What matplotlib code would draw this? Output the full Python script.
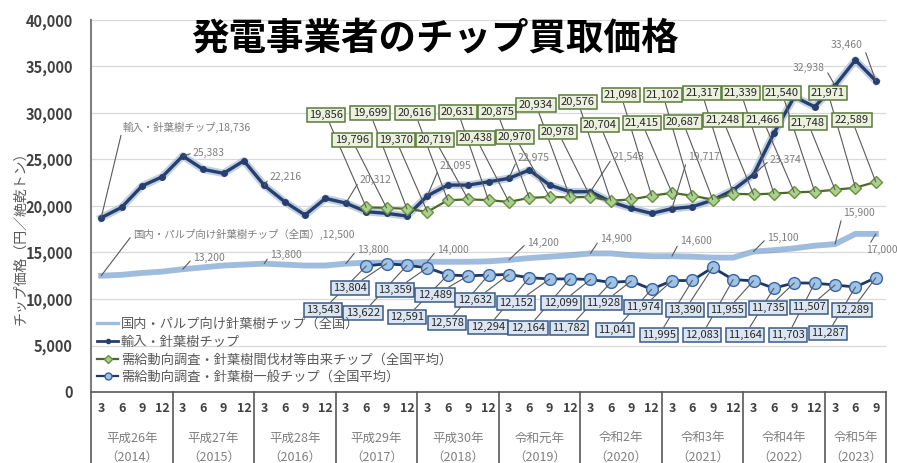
import numpy as np
import matplotlib.pyplot as plt
from matplotlib.lines import Line2D
from matplotlib.ticker import FuncFormatter

plt.rcParams['font.family'] = ['Noto Sans CJK JP', 'DejaVu Sans']

W, H = 897, 463

# quarterly data, 2014 Mar .. 2023 Sep
months = ['3', '6', '9', '12'] * 9 + ['3', '6', '9']
eras = ['平成26年', '平成27年', '平成28年', '平成29年', '平成30年',
        '令和元年', '令和2年', '令和3年', '令和4年', '令和5年']
years = ['（2014）', '（2015）', '（2016）', '（2017）', '（2018）',
         '（2019）', '（2020）', '（2021）', '（2022）', '（2023）']

domestic = [12500, 12600, 12800, 12950, 13200, 13400, 13600, 13700, 13800, 13700,
            13600, 13600, 13800, 13900, 13900, 13900, 14000, 14000, 14000, 14050,
            14200, 14400, 14550, 14700, 14900, 14900, 14700, 14600, 14600, 14550,
            14450, 14450, 15100, 15250, 15450, 15730, 15900, 17000, 17000]
imported = [18736, 19850, 22150, 23150, 25383, 23940, 23510, 24860, 22216, 20460,
            19030, 20820, 20312, 19390, 19210, 18920, 21095, 22250, 22250, 22600,
            22975, 23870, 22250, 21530, 21543, 20460, 19750, 19200, 19717, 19920,
            20640, 21715, 23374, 27810, 31750, 30670, 32938, 35690, 33460]
# survey series start at 2017 Jun
survey_start = 13
thinning = [19856, 19796, 19699, 19370, 20616, 20719, 20631, 20438, 20875, 20970,
            20934, 20978, 20576, 20704, 21098, 21415, 21102, 20687, 21317, 21248,
            21339, 21466, 21540, 21748, 21971, 22589]
general = [13543, 13804, 13622, 13359, 12591, 12489, 12578, 12632, 12294, 12152,
           12164, 12099, 11782, 11928, 11041, 11974, 11995, 13390, 12083, 11955,
           11164, 11735, 11703, 11507, 11287, 12289]

names = ['国内・パルプ向け針葉樹チップ（全国）',
         '輸入・針葉樹チップ',
         '需給動向調査・針葉樹間伐材等由来チップ（全国平均）',
         '需給動向調査・針葉樹一般チップ（全国平均）']

# label placement in figure pixels (x, y from top)
thin_xy = [(326, 115), (352, 140), (370, 113), (396, 140), (415, 113), (435, 140),
           (458, 112), (476, 138), (497, 112), (515, 137), (536, 105), (558, 132),
           (578, 102), (600, 125), (621, 95), (642, 123), (663, 95), (683, 122),
           (702, 93), (723, 120), (741, 93), (763, 120), (782, 93), (808, 123),
           (828, 93), (852, 120)]
gen_xy = [(323, 310), (350, 288), (363, 313), (395, 290), (407, 317), (435, 295),
          (447, 323), (475, 300), (488, 327), (516, 303), (528, 328), (561, 303),
          (569, 328), (603, 303), (615, 330), (643, 307), (659, 335), (685, 310),
          (702, 335), (727, 310), (745, 335), (768, 308), (788, 335), (809, 307),
          (828, 333), (852, 310)]
imp_lab = [(4, 193, 153, 'left'), (8, 270, 177, 'left'), (12, 360, 180, 'left'),
           (16, 440, 166, 'left'), (20, 518, 158, 'left'), (24, 613, 157, 'left'),
           (28, 688, 157, 'left'), (32, 770, 160, 'left'), (36, 825, 68, 'right'),
           (38, 863, 45, 'right')]
dom_lab = [(4, 193, 258, 'left'), (8, 270, 255, 'left'), (12, 357, 250, 'left'),
           (16, 437, 250, 'left'), (20, 527, 243, 'left'), (24, 600, 239, 'left'),
           (28, 680, 241, 'left'), (32, 767, 238, 'left'), (36, 843, 213, 'left'),
           (38, 866, 250, 'left')]

fig = plt.figure(figsize=(W / 100, H / 100), dpi=100)
ax = fig.add_axes([91 / W, (H - 392) / H, 795 / W, 372 / H])

x = np.arange(len(months))
xs = x[survey_start:]

ax.plot(x, domestic, color='#5d84b5', lw=4.2, alpha=0.55, zorder=2)
ax.plot(x, domestic, color='#9cbde2', lw=2.4, zorder=2.1)
ax.plot(x, imported, color='#a9bdd8', lw=5.5, alpha=0.7, zorder=2.5)
ax.plot(x, imported, color='#263f6e', lw=2.4, marker='o', ms=4, zorder=2.6)
ax.plot(xs, thinning, color='#4b6a2a', lw=1.6, marker='D', ms=6.5,
        mfc='#a9d18e', mec='#6a8f3e', mew=1, zorder=3)
ax.plot(xs, general, color='#1f3864', lw=2, marker='o', ms=8.5,
        mfc='#9dc3e6', mec='#3b64a0', mew=1, zorder=3)

lead = dict(arrowstyle='-', color='#595959', lw=0.8, shrinkA=0, shrinkB=0)


def box_label(i, v, px, py, fc, ec):
    ax.annotate(f'{v:,}', xy=(i, v), xytext=(px, H - py), textcoords='figure pixels',
                ha='center', va='center', fontsize=8, color='#262626',
                bbox=dict(boxstyle='square,pad=0.22', fc=fc, ec=ec, lw=1.1),
                arrowprops=lead, zorder=5, annotation_clip=False)


def plain_label(i, v, text, px, py, ha):
    rel = (0, 0.5) if ha == 'left' else (1, 0.5)
    ax.annotate(text, xy=(i, v), xytext=(px, H - py), textcoords='figure pixels',
                ha=ha, va='center', fontsize=7.5, color='#7f7f7f',
                arrowprops=dict(lead, relpos=rel), zorder=5, annotation_clip=False)


for k, (v, (px, py)) in enumerate(zip(thinning, thin_xy)):
    box_label(survey_start + k, v, px, py, '#ebf1de', '#5b7b3b')
for k, (v, (px, py)) in enumerate(zip(general, gen_xy)):
    box_label(survey_start + k, v, px, py, '#dce6f2', '#3b5b85')

plain_label(0, imported[0], f'{names[1]},{imported[0]:,}', 123, 127, 'left')
for i, px, py, ha in imp_lab:
    plain_label(i, imported[i], f'{imported[i]:,}', px, py, ha)
plain_label(0, domestic[0], f'{names[0]},{domestic[0]:,}', 133, 234, 'left')
for i, px, py, ha in dom_lab:
    plain_label(i, domestic[i], f'{domestic[i]:,}', px, py, ha)

ax.set_xlim(-0.5, len(months) - 0.5)
ax.set_ylim(0, 40000)
ax.set_yticks(range(0, 40001, 5000))
ax.yaxis.set_major_formatter(FuncFormatter(lambda v, _: f'{int(v):,}'))
ax.tick_params(axis='y', length=0, pad=13, labelsize=10.5, labelcolor='#404040')
for t in ax.get_yticklabels():
    t.set_fontweight('bold')
ax.set_xticks(x)
ax.set_xticklabels(months, fontsize=9, fontweight='bold', color='#404040')
ax.tick_params(axis='x', length=0, pad=7)
ax.grid(axis='y', color='#d9d9d9', lw=0.9)
ax.set_axisbelow(True)
for s in ['top', 'right']:
    ax.spines[s].set_visible(False)
ax.spines['left'].set_color('#7f7f7f')
ax.spines['left'].set_linewidth(1.5)
ax.spines['bottom'].set_color('#595959')
ax.spines['bottom'].set_linewidth(1.2)

# year blocks under the axis
trans = ax.get_xaxis_transform()
bounds = [-0.5 + 4 * k for k in range(10)] + [len(months) - 0.5]
for b in bounds:
    ax.plot([b, b], [0, -72 / 372], transform=trans, color='#595959', lw=1.2,
            clip_on=False)
for k in range(10):
    c = (bounds[k] + bounds[k + 1]) / 2
    ax.text(c, -46 / 372, eras[k], transform=trans, ha='center', va='center',
            fontsize=9, color='#7f7f7f')
    ax.text(c, -65 / 372, years[k], transform=trans, ha='center', va='center',
            fontsize=9, color='#7f7f7f')

handles = [
    Line2D([], [], color='#9cbde2', lw=2.4),
    Line2D([], [], color='#263f6e', lw=2, marker='o', ms=3),
    Line2D([], [], color='#4b6a2a', lw=1.6, marker='D', ms=4.5, mfc='#a9d18e', mec='#6a8f3e'),
    Line2D([], [], color='#1f3864', lw=1.6, marker='o', ms=5, mfc='#9dc3e6', mec='#3b64a0'),
]
leg = ax.legend(handles, names, loc='upper left', bbox_to_anchor=(6 / 795, 74 / 372),
                frameon=False, fontsize=9.5, handlelength=1.6, handletextpad=0.2,
                labelspacing=0.35, borderpad=0, borderaxespad=0)
for t in leg.get_texts():
    t.set_color('#595959')

fig.text(20 / W, 1 - 235 / H, 'チップ価格（円／絶乾トン）', rotation=90, ha='center',
         va='center', fontsize=10, color='#595959')
fig.text(435 / W, 1 - 38 / H, '発電事業者のチップ買取価格', ha='center', va='center',
         fontsize=27, fontweight='bold', color='black')

fig.savefig('out.png', dpi=100)
